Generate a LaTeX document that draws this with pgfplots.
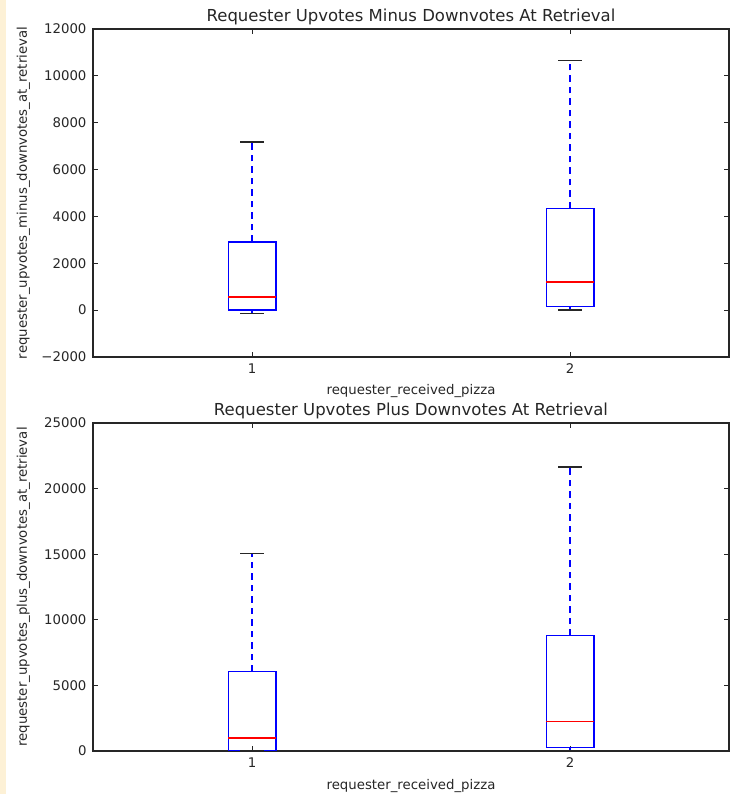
\documentclass[border=0pt]{standalone}
\usepackage{fontspec}
\setmainfont{DejaVu Sans}
\usepackage{pgfplots}
\pgfplotsset{compat=1.18}

\definecolor{strip}{HTML}{FDF1D6}
\definecolor{ink}{HTML}{262626}

\pgfplotsset{
  mplbox/.style={
    scale only axis, width=636pt, height=328pt,
    anchor=south west,
    xmin=0.5, xmax=2.5, xtick={1,2}, xticklabels={1,2},
    scaled y ticks=false,
    tick align=inside, major tick length=5pt,
    every tick/.style={ink, line width=0.9pt},
    axis line style={ink, line width=1.1pt},
    tick label style={font=\fontsize{13.3}{15}\selectfont, text=ink},
    label style={font=\fontsize{13.3}{15}\selectfont, text=ink},
    every axis title shift=0pt,
    title style={font=\fontsize{16.5}{19}\selectfont, text=ink,
                 at={(axis description cs:0.5,1)}, anchor=base, yshift=7.5pt},
    x tick label style={anchor=base, yshift=-17pt},
    y tick label style={xshift=-3pt},
    xlabel style={at={(axis description cs:0.5,0)}, anchor=base, yshift=-38pt},
    ylabel style={at={(axis description cs:-0.1038,0.5)}, anchor=base},
  },
  bx/.style={blue, line width=1.3pt, solid, mark=none},
  wh/.style={blue, line width=1.2pt, dash pattern=on 6.5pt off 5pt, mark=none},
  cap/.style={ink, line width=1.3pt, solid, mark=none},
  med/.style={red, line width=1.3pt, solid, mark=none},
}

\begin{document}
\begin{tikzpicture}
\path[use as bounding box] (0,0) rectangle (748pt,794pt);
\fill[strip] (0,0) rectangle (6pt,794pt);

% upper panel: box half-width 0.075, cap half-width 0.0375
\begin{axis}[
    mplbox,
    at={(93pt,437pt)},
    title={Requester Upvotes Minus Downvotes At Retrieval},
    xlabel={requester\_received\_pizza},
    ylabel={requester\_upvotes\_minus\_downvotes\_at\_retrieval},
    ymin=-2000, ymax=12000,
    ytick={-2000,0,2000,4000,6000,8000,10000,12000},
    yticklabels={−2000,0,2000,4000,6000,8000,10000,12000},
]
% group 1: lw -130, q1 0, med 560, q3 2910, uw 7170
\addplot[wh] coordinates {(1,2910) (1,7170)};
\addplot[wh] coordinates {(1,0) (1,-130)};
\addplot[bx] coordinates {(0.925,0) (1.075,0) (1.075,2910) (0.925,2910) (0.925,0)};
\addplot[med] coordinates {(0.925,560) (1.075,560)};
\addplot[cap] coordinates {(0.9625,7170) (1.0375,7170)};
\addplot[cap] coordinates {(0.9625,-130) (1.0375,-130)};
% group 2: lw 0, q1 150, med 1200, q3 4340, uw 10660
\addplot[wh] coordinates {(2,4340) (2,10660)};
\addplot[wh] coordinates {(2,150) (2,0)};
\addplot[bx] coordinates {(1.925,150) (2.075,150) (2.075,4340) (1.925,4340) (1.925,150)};
\addplot[med] coordinates {(1.925,1200) (2.075,1200)};
\addplot[cap] coordinates {(1.9625,10660) (2.0375,10660)};
\addplot[cap] coordinates {(1.9625,0) (2.0375,0)};
\end{axis}

% lower panel
\begin{axis}[
    mplbox,
    at={(93pt,43pt)},
    title={Requester Upvotes Plus Downvotes At Retrieval},
    xlabel={requester\_received\_pizza},
    ylabel={requester\_upvotes\_plus\_downvotes\_at\_retrieval},
    ymin=0, ymax=25000,
    ytick={0,5000,10000,15000,20000,25000},
    yticklabels={0,5000,10000,15000,20000,25000},
]
% group 1: lw 0, q1 50, med 1000, q3 6050, uw 15050
\addplot[wh] coordinates {(1,6050) (1,15050)};
\addplot[wh] coordinates {(1,50) (1,0)};
\addplot[bx] coordinates {(0.925,50) (1.075,50) (1.075,6050) (0.925,6050) (0.925,50)};
\addplot[med] coordinates {(0.925,1000) (1.075,1000)};
\addplot[cap] coordinates {(0.9625,15050) (1.0375,15050)};
\addplot[cap] coordinates {(0.9625,0) (1.0375,0)};
% group 2: lw 30, q1 280, med 2250, q3 8800, uw 21650
\addplot[wh] coordinates {(2,8800) (2,21650)};
\addplot[wh] coordinates {(2,280) (2,30)};
\addplot[bx] coordinates {(1.925,280) (2.075,280) (2.075,8800) (1.925,8800) (1.925,280)};
\addplot[med] coordinates {(1.925,2250) (2.075,2250)};
\addplot[cap] coordinates {(1.9625,21650) (2.0375,21650)};
\addplot[cap] coordinates {(1.9625,30) (2.0375,30)};
\end{axis}
\end{tikzpicture}
\end{document}
